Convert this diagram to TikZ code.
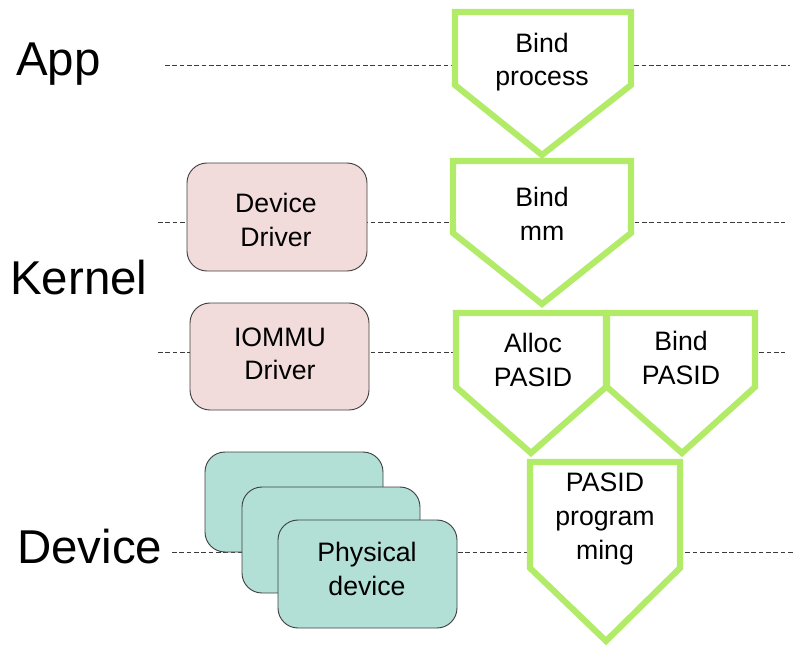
\documentclass[tikz,border=0pt]{standalone}
\usepackage{fontspec}
\setmainfont{Liberation Sans}
\definecolor{pgreen}{RGB}{178,235,104}
\definecolor{pink}{RGB}{242,220,219}
\definecolor{teal}{RGB}{178,224,214}
\definecolor{lgray}{RGB}{60,60,60}
\begin{document}
\begin{tikzpicture}[x=0.75pt,y=-0.75pt,
  level/.style={draw=lgray,line width=0.6pt,dash pattern=on 3.5pt off 2pt},
  penta/.style={draw=pgreen,line width=4.6pt,fill=white,line join=miter},
  rbox/.style={draw=black!75,line width=0.7pt,rounded corners=15pt},
  small/.style={inner sep=0pt,align=center,font=\fontsize{20}{25.2}\selectfont},
  big/.style={inner sep=0pt,font=\fontsize{35.6}{40}\selectfont}]
\useasboundingbox (0,0) rectangle (794,647);
% level lines
\draw[level] (165,65) -- (790,65);
\draw[level] (158,222) -- (785,222);
\draw[level] (158,352) -- (785,352);
\draw[level] (172,552) -- (794,552);
% labels
\node[big,anchor=base west] (app) at (16,75) {App};
\node[big,anchor=base west] (kernel) at (10,294) {Kernel};
\node[big,anchor=base west] (device) at (17,563) {Device};
% pentagons
\draw[penta] (455,12) -- (631,12) -- (631,85) -- (542,155) -- (455,85) -- cycle;
\draw[penta] (453,161) -- (631,161) -- (631,233) -- (542,304) -- (453,233) -- cycle;
\draw[penta] (456,313) -- (606,313) -- (606,387) -- (531,453) -- (456,387) -- cycle;
\draw[penta] (607,313) -- (755,313) -- (755,387) -- (682,453) -- (607,387) -- cycle;
\draw[penta] (530,462) -- (680,462) -- (680,568) -- (606,641) -- (530,568) -- cycle;
\node[small] (bindproc) at (542,62) {Bind\\process};
\node[small] (bindmm) at (542,214) {Bind\\mm};
\node[small] (alloc) at (533,360) {Alloc\\PASID};
\node[small] (bindpasid) at (681,358) {Bind\\PASID};
\node[small] (prog) at (605,519) {PASID\\program\\ming};
% driver boxes
\draw[rbox,fill=pink] (187,163) rectangle (367,271);
\node[small] (devdrv) at (276,220) {Device\\Driver};
\draw[rbox,fill=pink] (190,303) rectangle (369,410);
\node[small] (iommu) at (280,354) {IOMMU\\Driver};
% physical devices
\draw[rbox,fill=teal] (205,452) rectangle (383,552);
\draw[rbox,fill=teal] (242,487) rectangle (420,593);
\draw[rbox,fill=teal] (278,520) rectangle (457,628);
\node[small] (phys) at (367,569) {Physical\\device};
\end{tikzpicture}
\end{document}
